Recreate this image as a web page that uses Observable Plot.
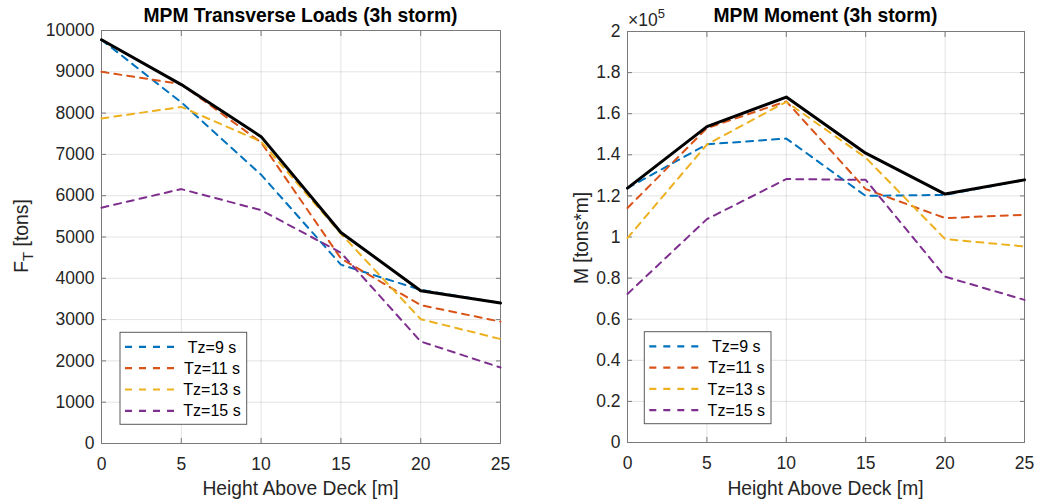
<!DOCTYPE html>
<html><head><meta charset="utf-8">
<script src="https://cdn.jsdelivr.net/npm/d3@7"></script>
<script src="https://cdn.jsdelivr.net/npm/@observablehq/plot@0.6"></script>
<style>
body{margin:0;background:#fff;}
#wrap{display:flex;width:1038px;height:504px;}
svg text{font-family:"Liberation Sans",Arial,Helvetica,sans-serif;}
</style></head><body><div id="wrap"></div>
<script>
const heights = [0, 5, 10, 15, 20, 25];
const xTicks = [0, 5, 10, 15, 20, 25];
const forceTicks = [0,1000,2000,3000,4000,5000,6000,7000,8000,9000,10000];
const momentTicks = [0,20000,40000,60000,80000,100000,120000,140000,160000,180000,200000];
const seriesNames = ["Tz=9 s", "Tz=11 s", "Tz=13 s", "Tz=15 s"];
const seriesColors = ["#0072BD", "#D95319", "#EDB120", "#7E2F8E"];

const forceTz9  = [9775, 8260, 6510, 4330, 3720, 3400];
const forceTz11 = [9000, 8700, 7290, 4480, 3350, 2950];
const forceTz13 = [7870, 8150, 7310, 5080, 3010, 2530];
const forceTz15 = [5710, 6160, 5650, 4620, 2470, 1840];
const forceMax  = [9775, 8690, 7430, 5110, 3700, 3400];

const momentTz9  = [123800, 145100, 147900, 120000, 120500, 127800];
const momentTz11 = [114100, 153000, 166000, 123300, 109200, 110800];
const momentTz13 = [ 99500, 145000, 165800, 138600,  99000,  95400];
const momentTz15 = [ 72300, 108700, 128200, 127800,  80700,  69400];
const momentMax  = [123800, 153700, 168100, 140800, 120900, 127800];

const AX = "#7a7a7a", TXT = "#262626";

function makeChart(cfg) {
  const {series, max, yDomain, yTicks, yFormat, ml, mr, mt, mb} = cfg;
  const lines = series.map((vals, i) =>
    Plot.line(heights.map((h, j) => ({x: h, y: vals[j]})), {
      x: "x", y: "y", stroke: seriesColors[i], strokeWidth: 2, strokeDasharray: "7,6"
    }));
  const chart = Plot.plot({
    width: 519, height: 504,
    marginLeft: ml, marginRight: mr, marginTop: mt, marginBottom: mb,
    x: {domain: [0, 25]},
    y: {domain: yDomain},
    style: {fontFamily: "Liberation Sans, Arial, sans-serif", background: "white", overflow: "visible"},
    marks: [
      Plot.gridX(xTicks, {stroke: "#000", strokeOpacity: 0.11}),
      Plot.gridY(yTicks, {stroke: "#000", strokeOpacity: 0.11}),
      Plot.frame({stroke: AX}),
      Plot.axisX(xTicks, {anchor: "bottom", tickSize: -5, fill: "none", stroke: AX, label: null}),
      Plot.axisX(xTicks, {anchor: "top", tickSize: -5, fill: "none", stroke: AX, label: null}),
      Plot.axisY(yTicks, {anchor: "left", tickSize: -5, fill: "none", stroke: AX, label: null}),
      Plot.axisY(yTicks, {anchor: "right", tickSize: -5, fill: "none", stroke: AX, label: null}),
      Plot.axisX(xTicks, {anchor: "bottom", tickSize: 0, tickPadding: 14, fontSize: 17.5, fill: TXT, label: null}),
      Plot.axisY(yTicks, {anchor: "left", tickSize: 0, tickPadding: 7, fontSize: 17.5, fill: TXT, label: null, tickFormat: yFormat}),
      ...lines,
      Plot.line(heights.map((h, j) => ({x: h, y: max[j]})), {x: "x", y: "y", stroke: "#000", strokeWidth: 3})
    ]
  });
  const svg = d3.select(chart);
  const cx = ml + (519 - ml - mr) / 2;
  // title
  svg.append("text").attr("x", cx).attr("y", 21.7).attr("text-anchor", "middle")
    .attr("font-size", 19.3).attr("font-weight", "bold").attr("fill", "#000").text(cfg.title);
  // x label
  svg.append("text").attr("x", cx).attr("y", 495).attr("text-anchor", "middle")
    .attr("font-size", 19.3).attr("fill", TXT).text("Height Above Deck [m]");
  // y label
  const yl = svg.append("text").attr("transform", `translate(${cfg.ylx},${cfg.yly}) rotate(-90)`)
    .attr("text-anchor", "middle").attr("font-size", 19.3).attr("fill", TXT);
  cfg.ylabel(yl);
  // legend
  const lx = cfg.legX, ly = cfg.legY;
  const g = svg.append("g");
  g.append("rect").attr("x", lx).attr("y", ly).attr("width", 126.7).attr("height", 92)
    .attr("fill", "#fff").attr("stroke", "#5a5a5a").attr("stroke-width", 1);
  seriesNames.forEach((n, i) => {
    const yy = ly + 14.6 + i * 21.3;
    g.append("line").attr("x1", lx + 5).attr("x2", lx + 54).attr("y1", yy).attr("y2", yy)
      .attr("stroke", seriesColors[i]).attr("stroke-width", 2.2).attr("stroke-dasharray", "7,7");
    g.append("text").attr("x", lx + 92).attr("y", yy).attr("dy", "0.35em").attr("text-anchor", "middle")
      .attr("font-size", 16).attr("fill", "#000").text(n);
  });
  if (cfg.extra) cfg.extra(svg);
  return chart;
}

const wrap = document.getElementById("wrap");
wrap.appendChild(makeChart({
  title: "MPM Transverse Loads (3h storm)",
  series: [forceTz9, forceTz11, forceTz13, forceTz15], max: forceMax,
  yDomain: [0, 10000], yTicks: forceTicks, yFormat: d => String(d),
  ml: 101, mr: 19, mt: 30, mb: 61,
  ylx: 28, yly: 236,
  ylabel: t => { t.append("tspan").text("F"); t.append("tspan").attr("font-size", 15).attr("dy", 5).text("T");
                 t.append("tspan").attr("dy", -5).text(" [tons]"); },
  legX: 120, legY: 332.3
}));
wrap.appendChild(makeChart({
  title: "MPM Moment (3h storm)",
  series: [momentTz9, momentTz11, momentTz13, momentTz15], max: momentMax,
  yDomain: [0, 200000], yTicks: momentTicks, yFormat: d => String(+(d / 1e5).toFixed(1)),
  ml: 108, mr: 14, mt: 31, mb: 62,
  ylx: 69.3, yly: 238,
  ylabel: t => t.text("M [tons*m]"),
  legX: 125.3, legY: 331.7,
  extra: svg => {
    const t = svg.append("text").attr("x", 109).attr("y", 26).attr("text-anchor", "start")
      .attr("font-size", 17.5).attr("fill", TXT);
    t.append("tspan").text("×10");
    t.append("tspan").attr("font-size", 13).attr("dy", -8).text("5");
  }
}));
</script></body></html>
